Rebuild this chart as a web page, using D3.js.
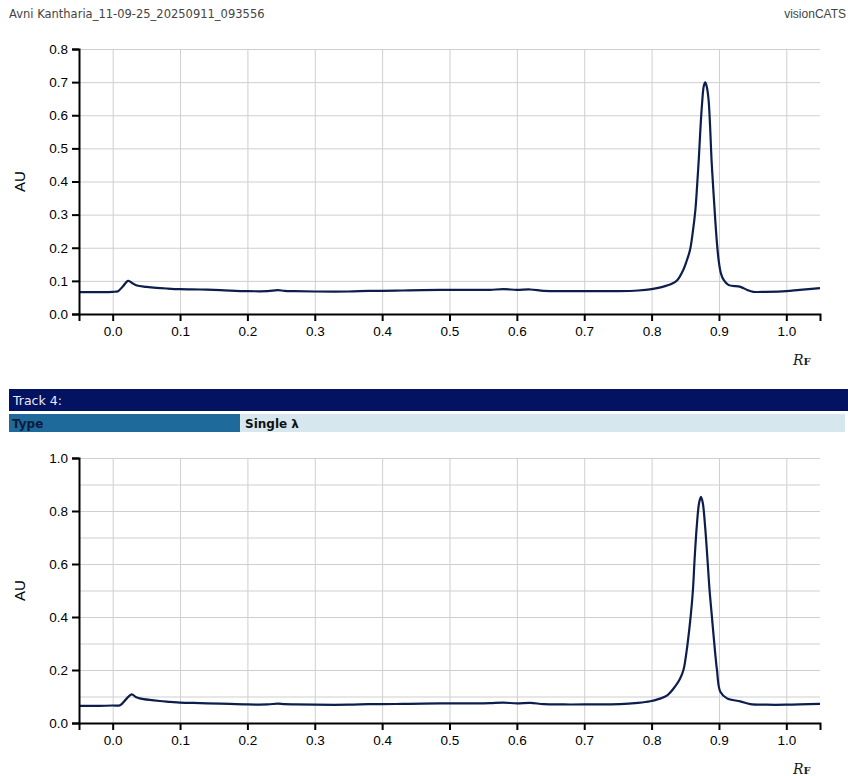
<!DOCTYPE html>
<html lang="en">
<head>
  <meta charset="UTF-8" />
  <title>visionCATS chromatogram</title>
  <script src="https://d3js.org/d3.v7.min.js"></script>
  <style>
    body { margin: 0; padding: 0; background: #fff; }
    svg { display: block; }
    .tick text { font-family: "Liberation Sans", Arial, sans-serif; font-size: 13.5px; fill: #000; }
    .grid line { stroke: #cfcfcf; stroke-width: 1; }
    .grid path { display: none; }
  </style>
</head>
<body>
<div id="chart"></div>
<script>
  // Rf positions and absorbance, top track
  const rfTop = [-0.05, -0.02, 0.0, 0.008, 0.015, 0.023, 0.03, 0.036, 0.05, 0.065, 0.08, 0.1, 0.13, 0.16, 0.2, 0.23, 0.245, 0.255, 0.27, 0.3, 0.35, 0.38, 0.4, 0.43, 0.46, 0.5, 0.54, 0.56, 0.58, 0.6, 0.62, 0.64, 0.67, 0.7, 0.75, 0.78, 0.8, 0.815, 0.83, 0.838, 0.847, 0.852, 0.857, 0.861, 0.865, 0.8675, 0.87, 0.8725, 0.875, 0.8775, 0.8797, 0.882, 0.8846, 0.887, 0.889, 0.8918, 0.8945, 0.897, 0.8995, 0.903, 0.907, 0.914, 0.932, 0.942, 0.951, 0.97, 1.0, 1.02, 1.05];
  const auTop = [0.066, 0.066, 0.067, 0.069, 0.083, 0.1, 0.092, 0.086, 0.082, 0.079, 0.077, 0.075, 0.074, 0.072, 0.069, 0.069, 0.072, 0.07, 0.069, 0.068, 0.068, 0.07, 0.07, 0.071, 0.072, 0.073, 0.073, 0.073, 0.075, 0.073, 0.074, 0.07, 0.069, 0.069, 0.069, 0.071, 0.075, 0.081, 0.091, 0.102, 0.133, 0.16, 0.193, 0.245, 0.314, 0.385, 0.465, 0.56, 0.637, 0.688, 0.699, 0.685, 0.646, 0.56, 0.465, 0.37, 0.284, 0.215, 0.163, 0.122, 0.103, 0.088, 0.082, 0.0725, 0.067, 0.067, 0.069, 0.073, 0.078];

  // Rf positions and absorbance, track 4
  const rfBottom = [-0.05, -0.02, 0.0, 0.011, 0.02, 0.028, 0.035, 0.04, 0.055, 0.07, 0.085, 0.1, 0.13, 0.16, 0.2, 0.23, 0.245, 0.255, 0.27, 0.3, 0.35, 0.38, 0.4, 0.43, 0.46, 0.5, 0.54, 0.56, 0.58, 0.6, 0.62, 0.64, 0.67, 0.7, 0.753, 0.78, 0.798, 0.81, 0.8227, 0.835, 0.842, 0.8474, 0.8505, 0.853, 0.858, 0.8614, 0.8638, 0.867, 0.8705, 0.8733, 0.876, 0.8795, 0.883, 0.886, 0.8895, 0.893, 0.897, 0.902, 0.912, 0.9316, 0.9465, 0.97, 1.0, 1.05];
  const auBottom = [0.065, 0.065, 0.066, 0.067, 0.09, 0.108, 0.097, 0.093, 0.087, 0.083, 0.08, 0.077, 0.075, 0.073, 0.07, 0.07, 0.073, 0.071, 0.07, 0.069, 0.069, 0.071, 0.071, 0.072, 0.073, 0.074, 0.074, 0.075, 0.077, 0.074, 0.076, 0.071, 0.07, 0.07, 0.071, 0.076, 0.082, 0.09, 0.103, 0.138, 0.166, 0.201, 0.245, 0.29, 0.402, 0.503, 0.616, 0.74, 0.83, 0.853, 0.83, 0.74, 0.616, 0.503, 0.402, 0.302, 0.201, 0.118, 0.093, 0.0815, 0.071, 0.069, 0.069, 0.072];

  const xTicks = [0.0, 0.1, 0.2, 0.3, 0.4, 0.5, 0.6, 0.7, 0.8, 0.9, 1.0];
  const yTicksTop = [0.0, 0.1, 0.2, 0.3, 0.4, 0.5, 0.6, 0.7, 0.8];
  const yTicksBottom = [0.0, 0.2, 0.4, 0.6, 0.8, 1.0];
  const yGridBottom = [0.1, 0.2, 0.3, 0.4, 0.5, 0.6, 0.7, 0.8, 0.9, 1.0];

  const width = 848, height = 776;
  const svg = d3.select("#chart").append("svg")
    .attr("width", width)
    .attr("height", height);

  // header
  svg.append("text")
    .attr("x", 9).attr("y", 18)
    .style("font-family", "'DejaVu Sans', Verdana, sans-serif")
    .style("font-size", "11.5px")
    .style("fill", "#444")
    .text("Avni Kantharia_11-09-25_20250911_093556");
  svg.append("text")
    .attr("x", 846).attr("y", 18)
    .attr("text-anchor", "end")
    .style("font-family", "'Liberation Sans', Arial, sans-serif")
    .style("font-size", "12px")
    .style("fill", "#444")
    .text("visionCATS");

  const left = 79, right = 820;
  const x = d3.scaleLinear().domain([-0.05, 1.05]).range([left, right]);

  function drawPanel(rf, au, yMax, top, bottom, yTicks, yGrid) {
    const y = d3.scaleLinear().domain([0, yMax]).range([bottom, top]);
    const g = svg.append("g");

    g.append("g").attr("class", "grid")
      .attr("transform", `translate(0,${bottom})`)
      .call(d3.axisBottom(x).tickValues(xTicks).tickSize(-(bottom - top)).tickFormat(""));
    g.append("g").attr("class", "grid")
      .attr("transform", `translate(${left},0)`)
      .call(d3.axisLeft(y).tickValues(yGrid).tickSize(-(right - left)).tickFormat(""));

    const line = d3.line()
      .x((d, i) => x(rf[i]))
      .y(d => y(d))
      .curve(d3.curveCatmullRom.alpha(0.5));
    g.append("path")
      .datum(au)
      .attr("d", line)
      .attr("fill", "none")
      .attr("stroke", "#0b1e4e")
      .attr("stroke-width", 2.2)
      .attr("stroke-linejoin", "round");

    const xa = g.append("g")
      .attr("transform", `translate(0,${bottom})`)
      .call(d3.axisBottom(x).tickValues(xTicks).tickSize(7).tickSizeOuter(7).tickPadding(5).tickFormat(d3.format(".1f")));
    const ya = g.append("g")
      .attr("transform", `translate(${left},0)`)
      .call(d3.axisLeft(y).tickValues(yTicks).tickSize(7).tickSizeOuter(7).tickPadding(4).tickFormat(d3.format(".1f")));
    [xa, ya].forEach(a => {
      a.select(".domain").attr("stroke", "#000").attr("stroke-width", 2);
      a.selectAll(".tick line").attr("stroke", "#000").attr("stroke-width", 2);
    });

    g.append("text")
      .attr("transform", `translate(25,${(top + bottom) / 2}) rotate(-90)`)
      .attr("text-anchor", "middle")
      .style("font-family", "'Liberation Sans', Arial, sans-serif")
      .style("font-size", "15px")
      .style("fill", "#000")
      .text("AU");

    const rl = g.append("text")
      .attr("x", 793).attr("y", bottom + 51)
      .style("font-family", "'DejaVu Serif', serif")
      .style("fill", "#1a1a1a");
    rl.append("tspan").style("font-style", "italic").style("font-size", "14px").text("R");
    rl.append("tspan").style("font-weight", "bold").style("font-size", "10px").text("F");
  }

  drawPanel(rfTop, auTop, 0.8, 49, 314, yTicksTop, yTicksTop.slice(1));

  // track header
  svg.append("rect").attr("x", 9).attr("y", 389).attr("width", 839).attr("height", 22).attr("fill", "#031261");
  svg.append("text")
    .attr("x", 13).attr("y", 405)
    .style("font-family", "'DejaVu Sans', Verdana, sans-serif")
    .style("font-size", "12.5px")
    .style("fill", "#e8ecf5")
    .text("Track 4:");
  svg.append("rect").attr("x", 9).attr("y", 414).attr("width", 231).attr("height", 18).attr("fill", "#1d6a9b");
  svg.append("rect").attr("x", 240).attr("y", 414).attr("width", 605).attr("height", 18).attr("fill", "#d6e7ee");
  svg.append("text")
    .attr("x", 12).attr("y", 428)
    .style("font-family", "'DejaVu Sans', Verdana, sans-serif")
    .style("font-size", "12px").style("font-weight", "bold")
    .style("fill", "#0d1b3a")
    .text("Type");
  svg.append("text")
    .attr("x", 245).attr("y", 428)
    .style("font-family", "'DejaVu Sans', Verdana, sans-serif")
    .style("font-size", "12px").style("font-weight", "bold")
    .style("fill", "#111")
    .text("Single λ");

  drawPanel(rfBottom, auBottom, 1.0, 458, 723, yTicksBottom, yGridBottom);
</script>
</body>
</html>
